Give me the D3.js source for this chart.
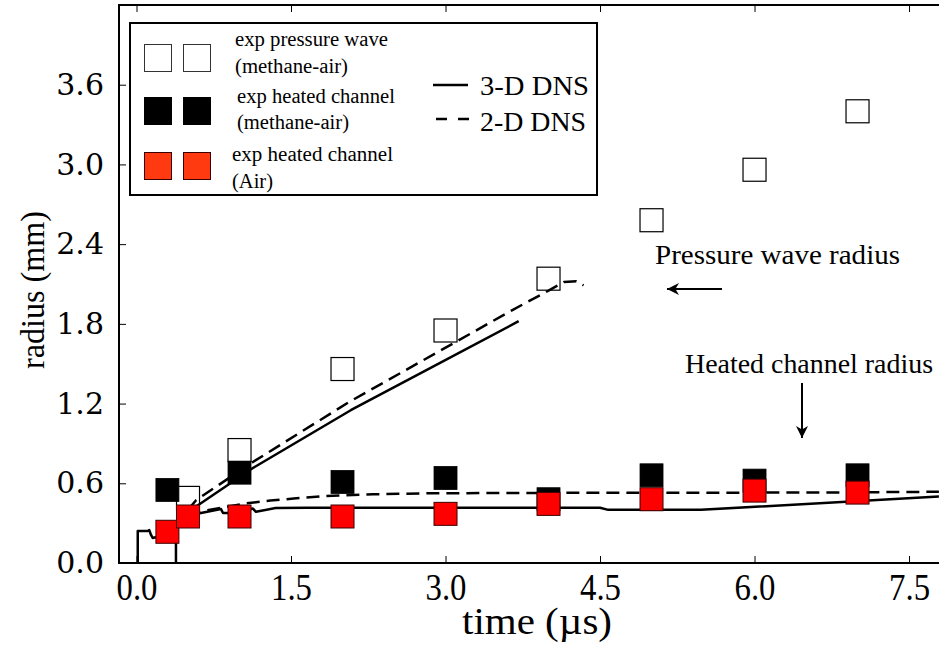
<!DOCTYPE html>
<html>
<head>
<meta charset="utf-8">
<script src="https://cdn.jsdelivr.net/npm/d3@7"></script>
<style>
  html, body { margin: 0; padding: 0; background: #fff; }
  svg { display: block; }
</style>
</head>
<body>
<svg id="chart" width="939" height="649"></svg>
<script>
// ---------- data ----------
const xTicks = [0, 1.5, 3.0, 4.5, 6.0, 7.5];
const yTicks = [0, 0.6, 1.2, 1.8, 2.4, 3.0, 3.6];

// experimental markers
const expPressureT = [0.5, 1, 2, 3, 4, 5, 6, 7];
const expPressureR = [0.49, 0.85, 1.46, 1.75, 2.14, 2.58, 2.96, 3.40];
const expChannelCH4T = [0.3, 1, 2, 3, 4, 5, 6, 7];
const expChannelCH4R = [0.55, 0.68, 0.61, 0.64, 0.48, 0.66, 0.62, 0.66];
const expChannelAirT = [0.3, 0.5, 1, 2, 3, 4, 5, 6, 7];
const expChannelAirR = [0.235, 0.35, 0.35, 0.35, 0.37, 0.445, 0.48, 0.545, 0.53];

// DNS curves
const pw3dT = [0.50, 0.60, 1.13, 2.08, 2.86, 3.71];
const pw3dR = [0.38, 0.436, 0.715, 1.15, 1.47, 1.82];
const pw2dT = [0.50, 0.58, 1.13, 2.06, 3.64, 4.00, 4.15, 4.27, 4.34];
const pw2dR = [0.40, 0.474, 0.76, 1.21, 1.90, 2.05, 2.115, 2.12, 2.09];

const ch3dEarlyT = [0.012, 0.012, 0.109, 0.124, 0.141, 0.157, 0.206, 0.383, 0.383];
const ch3dEarlyR = [0.0, 0.241, 0.241, 0.248, 0.211, 0.188, 0.198, 0.20, 0.0];
const ch3dT = [0.50, 0.626, 0.82, 0.84, 0.89, 1.0, 1.13, 1.16, 1.35, 1.66, 2.0, 3.0, 4.50, 4.58, 5.48, 7.79];
const ch3dR = [0.36, 0.376, 0.406, 0.376, 0.376, 0.39, 0.41, 0.385, 0.414, 0.416, 0.416, 0.416, 0.416, 0.40, 0.40, 0.50];
const ch2dT = [0.50, 0.63, 0.85, 1.07, 1.30, 1.55, 1.83, 2.30, 2.75, 3.5, 5.0, 6.5, 7.79];
const ch2dR = [0.36, 0.39, 0.42, 0.449, 0.47, 0.487, 0.504, 0.517, 0.524, 0.527, 0.529, 0.530, 0.536];

const legendMarkerLabels = [
  ["exp pressure wave", "(methane-air)"],
  ["exp heated channel", "(methane-air)"],
  ["exp heated channel", "(Air)"]
];
const legendLineLabels = ["3-D DNS", "2-D DNS"];
const xLabel = "time (\u00b5s)";
const yLabel = "radius (mm)";
const annotations = ["Pressure wave radius", "Heated channel radius"];

// ---------- setup ----------
const svg = d3.select("#chart");
const L = 119, R = 939, T = 5, B = 563;
const x = d3.scaleLinear().domain([-0.17, 7.791]).range([L, R]);
const y = d3.scaleLinear().domain([0, 4.2]).range([B, T]);

const serif = "'Liberation Serif', 'Times New Roman', serif";
const dvSerif = "'DejaVu Serif', serif";

const zip = (a, b) => a.map((v, i) => [v, b[i]]);

function fitText(sel, len) {
  sel.attr("textLength", len).attr("lengthAdjust", "spacingAndGlyphs");
}

// ---------- markers: open squares (under lines) ----------
const MS = 23;
const plot = svg.append("g");

plot.append("g").selectAll("rect")
  .data(zip(expPressureT, expPressureR)).join("rect")
  .attr("x", d => x(d[0]) - MS / 2).attr("y", d => y(d[1]) - MS / 2)
  .attr("width", MS).attr("height", MS)
  .attr("fill", "#fff").attr("stroke", "#000").attr("stroke-width", 1.2);

// ---------- lines ----------
const line = d3.line().x(d => x(d[0])).y(d => y(d[1]));
function drawLine(t, r, dashed) {
  plot.append("path").datum(zip(t, r))
    .attr("d", line).attr("fill", "none")
    .attr("stroke", "#000").attr("stroke-width", 2.5)
    .attr("stroke-linejoin", "round")
    .attr("stroke-dasharray", dashed ? "13,7" : null);
}
drawLine(pw3dT, pw3dR, false);
drawLine(pw2dT, pw2dR, true);
drawLine(ch3dEarlyT, ch3dEarlyR, false);
drawLine(ch3dT, ch3dR, false);
drawLine(ch2dT, ch2dR, true);

// ---------- filled markers ----------
plot.append("g").selectAll("rect")
  .data(zip(expChannelCH4T, expChannelCH4R)).join("rect")
  .attr("x", d => x(d[0]) - MS / 2).attr("y", d => y(d[1]) - MS / 2)
  .attr("width", MS).attr("height", MS)
  .attr("fill", "#000").attr("stroke", "#000").attr("stroke-width", 0.8);

plot.append("g").selectAll("rect")
  .data(zip(expChannelAirT, expChannelAirR)).join("rect")
  .attr("x", d => x(d[0]) - MS / 2).attr("y", d => y(d[1]) - MS / 2)
  .attr("width", MS).attr("height", MS)
  .attr("fill", "#ff0000").attr("stroke", "#3a0000").attr("stroke-width", 1);

// ---------- axes ----------
const xAxis = svg.append("g").attr("transform", `translate(0,${B})`)
  .call(d3.axisBottom(x).tickValues(xTicks).tickFormat(d3.format(".1f"))
    .tickSize(-7).tickSizeOuter(0).tickPadding(10));
xAxis.select(".domain").remove();
xAxis.selectAll("line").attr("stroke", "#000").attr("stroke-width", 1);
xAxis.selectAll("text").attr("font-family", serif).attr("font-size", 38)
  .attr("fill", "#000").attr("dy", "0.71em").call(fitText, 41);

const yAxis = svg.append("g").attr("transform", `translate(${L},0)`)
  .call(d3.axisLeft(y).tickValues(yTicks).tickFormat(d3.format(".1f"))
    .tickSize(-7).tickSizeOuter(0).tickPadding(15));
yAxis.select(".domain").remove();
yAxis.selectAll("line").attr("stroke", "#000").attr("stroke-width", 1);
yAxis.selectAll("text").attr("font-family", dvSerif).attr("font-size", 30)
  .attr("fill", "#000");

// top ticks
const topAxis = svg.append("g").attr("transform", `translate(0,${T})`)
  .call(d3.axisTop(x).tickValues(xTicks).tickFormat("").tickSize(-7).tickSizeOuter(0));
topAxis.select(".domain").remove();
topAxis.selectAll("line").attr("stroke", "#000").attr("stroke-width", 1);

// spines
svg.append("path")
  .attr("d", `M${R},${T}H${L}V${B}H${R}`)
  .attr("fill", "none").attr("stroke", "#000").attr("stroke-width", 2);

// axis titles
svg.append("text").attr("x", 537).attr("y", 634).attr("text-anchor", "middle")
  .attr("font-family", serif).attr("font-size", 38).text(xLabel).call(fitText, 150);
svg.append("text").attr("transform", "translate(44,290) rotate(-90)")
  .attr("text-anchor", "middle").attr("font-family", serif).attr("font-size", 34)
  .text(yLabel).call(fitText, 158);

// ---------- legend ----------
const lg = svg.append("g");
lg.append("rect").attr("x", 130).attr("y", 23).attr("width", 467).attr("height", 172)
  .attr("fill", "#fff").attr("stroke", "#000").attr("stroke-width", 2);
const LMS = 27;
const legRowY = [58, 111, 166];
const legFill = ["#fff", "#000", "#ff3a10"];
const legStroke = ["#333", "#000", "#3a0000"];
const legTextX = [235, 237, 232];
const legTextY = [[46, 73], [103, 129], [161, 188]];
const legTextW = [[153, 113], [158, 112], [161, 41]];
legRowY.forEach((cy, i) => {
  [158, 197].forEach(cx => {
    lg.append("rect").attr("x", cx - LMS / 2).attr("y", cy - LMS / 2)
      .attr("width", LMS).attr("height", LMS)
      .attr("fill", legFill[i]).attr("stroke", legStroke[i]).attr("stroke-width", 1);
  });
  legendMarkerLabels[i].forEach((s, j) => {
    lg.append("text").attr("x", legTextX[i]).attr("y", legTextY[i][j])
      .attr("font-family", serif).attr("font-size", 20).text(s)
      .call(fitText, legTextW[i][j]);
  });
});
lg.append("line").attr("x1", 433).attr("x2", 468).attr("y1", 85).attr("y2", 85)
  .attr("stroke", "#000").attr("stroke-width", 2.5);
lg.append("line").attr("x1", 436).attr("x2", 469).attr("y1", 119).attr("y2", 119)
  .attr("stroke", "#000").attr("stroke-width", 2.5).attr("stroke-dasharray", "11,11");
lg.append("text").attr("x", 480).attr("y", 95).attr("font-family", serif)
  .attr("font-size", 28).text(legendLineLabels[0]).call(fitText, 109);
lg.append("text").attr("x", 480).attr("y", 131).attr("font-family", serif)
  .attr("font-size", 28).text(legendLineLabels[1]).call(fitText, 106);

// ---------- annotations ----------
const defs = svg.append("defs");
defs.append("marker").attr("id", "ah").attr("viewBox", "0 0 10 10")
  .attr("refX", 10).attr("refY", 5).attr("markerWidth", 12).attr("markerHeight", 12)
  .attr("markerUnits", "userSpaceOnUse").attr("orient", "auto")
  .append("path").attr("d", "M0,0 L10,5 L0,10 L3,5 Z").attr("fill", "#000");

svg.append("text").attr("x", 655).attr("y", 264).attr("font-family", serif)
  .attr("font-size", 27).text(annotations[0]).call(fitText, 245);
svg.append("line").attr("x1", 722).attr("y1", 289).attr("x2", 667).attr("y2", 289)
  .attr("stroke", "#000").attr("stroke-width", 2).attr("marker-end", "url(#ah)");
svg.append("text").attr("x", 685).attr("y", 373).attr("font-family", serif)
  .attr("font-size", 27).text(annotations[1]).call(fitText, 248);
svg.append("line").attr("x1", 802).attr("y1", 383).attr("x2", 802).attr("y2", 438)
  .attr("stroke", "#000").attr("stroke-width", 2).attr("marker-end", "url(#ah)");
</script>
</body>
</html>
